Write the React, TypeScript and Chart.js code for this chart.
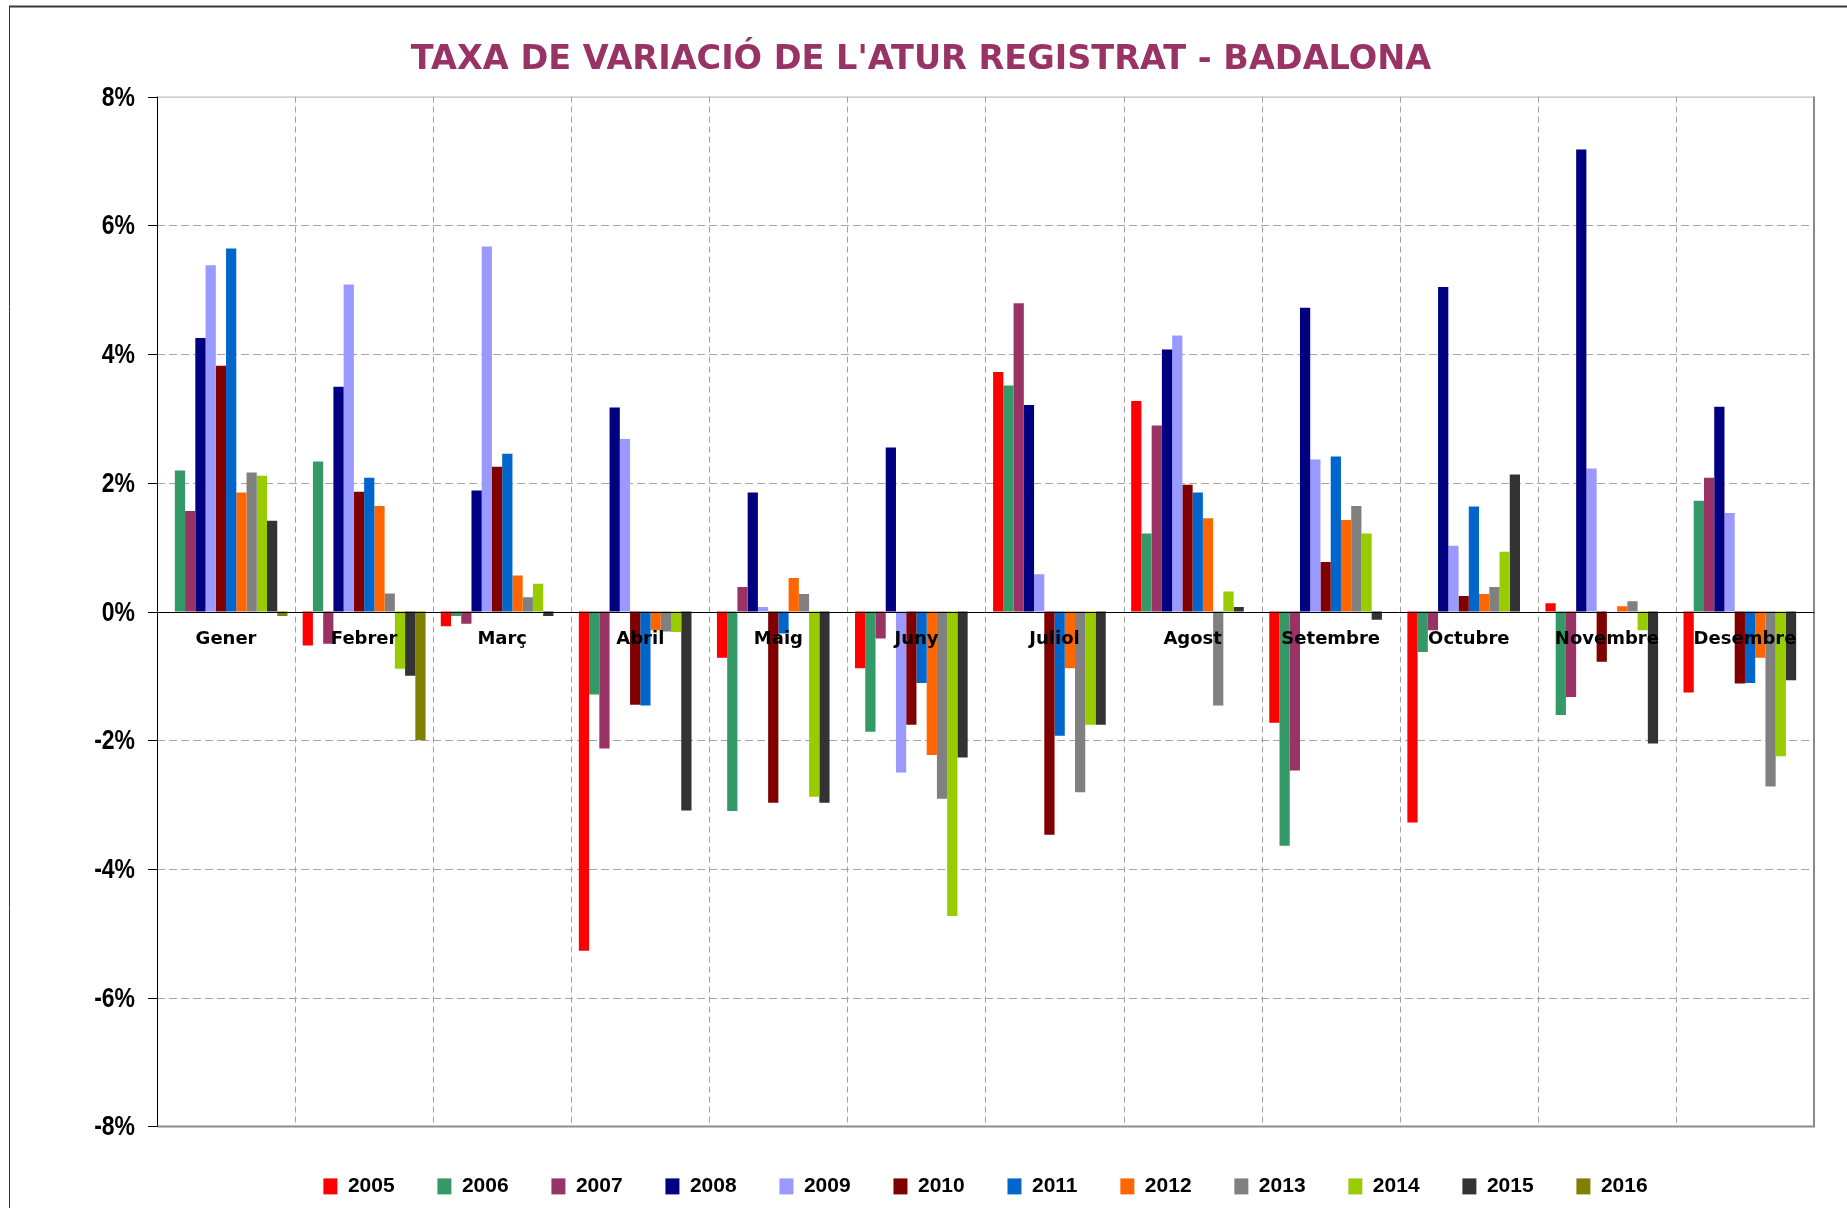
import React, { useEffect, useRef } from 'react';
import { Chart, registerables } from 'chart.js';

Chart.register(...registerables);

const months = ['Gener', 'Febrer', 'Març', 'Abril', 'Maig', 'Juny', 'Juliol', 'Agost', 'Setembre', 'Octubre', 'Novembre', 'Desembre'];
const years = ['2005', '2006', '2007', '2008', '2009', '2010', '2011', '2012', '2013', '2014', '2015', '2016'];
const colors = ['#FF0000', '#339966', '#993366', '#000080', '#9999FF', '#800000', '#0066CC', '#FF6600', '#808080', '#99CC00', '#333333', '#808000'];

const y2005 = [null, -0.53, -0.23, -5.27, -0.72, -0.88, 3.72, 3.27, -1.73, -3.28, 0.13, -1.26];
const y2006 = [2.19, 2.33, -0.07, -1.29, -3.10, -1.87, 3.51, 1.21, -3.64, -0.63, -1.61, 1.72];
const y2007 = [1.56, -0.50, -0.19, -2.13, 0.38, -0.42, 4.79, 2.89, -2.47, -0.29, -1.33, 2.08];
const y2008 = [4.25, 3.49, 1.88, 3.17, 1.85, 2.55, 3.21, 4.07, 4.72, 5.04, 7.18, 3.18];
const y2009 = [5.38, 5.08, 5.67, 2.68, 0.07, -2.50, 0.58, 4.29, 2.36, 1.02, 2.22, 1.53];
const y2010 = [3.82, 1.86, 2.25, -1.45, -2.97, -1.76, -3.47, 1.97, 0.77, 0.24, -0.78, -1.12];
const y2011 = [5.64, 2.08, 2.45, -1.46, -0.34, -1.11, -1.93, 1.85, 2.41, 1.63, 0, -1.11];
const y2012 = [1.85, 1.64, 0.56, -0.29, 0.52, -2.23, -0.88, 1.45, 1.42, 0.27, 0.08, -0.72];
const y2013 = [2.16, 0.28, 0.22, -0.31, 0.27, -2.91, -2.81, -1.46, 1.64, 0.38, 0.16, -2.72];
const y2014 = [2.11, -0.89, 0.43, -0.32, -2.88, -4.73, -1.76, 0.31, 1.21, 0.93, -0.29, -2.25];
const y2015 = [1.41, -1.00, -0.07, -3.09, -2.97, -2.27, -1.76, 0.07, -0.13, 2.13, -2.05, -1.07];
const y2016 = [-0.07, -2.00, null, null, null, null, null, null, null, null, null, null];

const series = [y2005, y2006, y2007, y2008, y2009, y2010, y2011, y2012, y2013, y2014, y2015, y2016];

const yMin = -8;
const yMax = 8;
const yStep = 2;

const TITLE = "TAXA DE VARIACIÓ DE L'ATUR REGISTRAT - BADALONA";
const ARIAL = '"Liberation Sans", Arial, sans-serif';
const VERDANA = '"DejaVu Sans", Verdana, sans-serif';

const framePlugin = {
  id: 'frameGrid',
  beforeDraw(chart: any) {
    const { ctx, width, height } = chart;
    ctx.save();
    ctx.fillStyle = '#ffffff';
    ctx.fillRect(0, 0, width, height);
    ctx.strokeStyle = '#3a3a3a';
    ctx.lineWidth = 2;
    ctx.beginPath();
    ctx.moveTo(9, 6.5);
    ctx.lineTo(width, 6.5);
    ctx.stroke();
    ctx.lineWidth = 1;
    ctx.strokeStyle = '#333333';
    ctx.beginPath();
    ctx.moveTo(9.5, 6);
    ctx.lineTo(9.5, height);
    ctx.stroke();
    ctx.restore();
  },
  beforeDatasetsDraw(chart: any) {
    const { ctx, chartArea } = chart;
    const x = chart.scales.x;
    const y = chart.scales.y;
    const { left, right, top, bottom } = chartArea;
    ctx.save();
    ctx.strokeStyle = '#a6a6a6';
    ctx.lineWidth = 1;
    ctx.setLineDash([8, 4]);
    y.ticks.forEach((t: any) => {
      if (t.value === 0 || t.value === yMin || t.value === yMax) return;
      const py = Math.round(y.getPixelForValue(t.value)) + 0.5;
      ctx.beginPath();
      ctx.moveTo(left, py);
      ctx.lineTo(right, py);
      ctx.stroke();
    });
    ctx.setLineDash([6, 4]);
    ctx.strokeStyle = '#a0a0a0';
    const n = months.length;
    for (let i = 0; i < n - 1; i++) {
      const px = Math.round((x.getPixelForValue(i) + x.getPixelForValue(i + 1)) / 2) + 0.5;
      ctx.beginPath();
      ctx.moveTo(px, top);
      ctx.lineTo(px, bottom);
      ctx.stroke();
    }
    ctx.setLineDash([]);
    ctx.strokeStyle = '#b0b0b0';
    ctx.lineWidth = 1;
    ctx.beginPath();
    ctx.moveTo(left, top + 0.5);
    ctx.lineTo(right, top + 0.5);
    ctx.stroke();
    ctx.strokeStyle = '#8a8a8a';
    ctx.lineWidth = 2;
    ctx.beginPath();
    ctx.moveTo(right, top);
    ctx.lineTo(right, bottom);
    ctx.moveTo(left, bottom);
    ctx.lineTo(right + 1, bottom);
    ctx.stroke();
    ctx.restore();
  },
  afterDatasetsDraw(chart: any) {
    const { ctx, chartArea } = chart;
    const x = chart.scales.x;
    const y = chart.scales.y;
    const { left, right, top, bottom } = chartArea;
    ctx.save();
    ctx.strokeStyle = '#000000';
    ctx.lineWidth = 1;
    const zy = Math.round(y.getPixelForValue(0)) + 0.5;
    ctx.beginPath();
    ctx.moveTo(left, zy);
    ctx.lineTo(right, zy);
    ctx.stroke();
    const ax = Math.round(left) + 0.5;
    ctx.beginPath();
    ctx.moveTo(ax, top);
    ctx.lineTo(ax, bottom);
    ctx.stroke();
    // y tick marks and (condensed) tick labels
    ctx.fillStyle = '#000000';
    ctx.font = `bold 28px ${ARIAL}`;
    ctx.textAlign = 'right';
    ctx.textBaseline = 'middle';
    y.ticks.forEach((t: any) => {
      const py = Math.round(y.getPixelForValue(t.value)) + 0.5;
      ctx.beginPath();
      ctx.moveTo(left - 9, py);
      ctx.lineTo(left, py);
      ctx.stroke();
      ctx.save();
      ctx.translate(left - 22, py + 1);
      ctx.scale(0.82, 1);
      ctx.fillText(`${t.value}%`, 0, 0);
      ctx.restore();
    });
    // category labels just below zero line
    ctx.font = `bold 18px ${VERDANA}`;
    ctx.textAlign = 'center';
    ctx.textBaseline = 'middle';
    months.forEach((m, i) => {
      ctx.fillText(m, x.getPixelForValue(i), y.getPixelForValue(0) + 28);
    });
    ctx.restore();
  },
};

export default function App() {
  const ref = useRef<HTMLCanvasElement | null>(null);

  useEffect(() => {
    if (!ref.current) return;
    const chart = new Chart(ref.current, {
      type: 'bar',
      data: {
        labels: months,
        datasets: series.map((d, i) => ({
          label: years[i],
          data: d,
          backgroundColor: colors[i],
          borderWidth: 0,
          categoryPercentage: 0.89,
          barPercentage: 1,
        })),
      },
      options: {
        responsive: false,
        animation: false,
        layout: { padding: { left: 28, right: 33, top: 0, bottom: 1.1 } },
        plugins: {
          title: {
            display: true,
            text: TITLE,
            color: '#993366',
            font: { family: VERDANA, size: 33.5, weight: 'bold' },
            padding: { top: 40, bottom: 16.4 },
          },
          legend: {
            position: 'bottom',
            fullSize: false,
            labels: {
              boxWidth: 14,
              boxHeight: 16,
              padding: 42.8,
              color: '#000000',
              font: { family: ARIAL, size: 21, weight: 'bold' },
            },
          },
          tooltip: { enabled: false },
        },
        scales: {
          x: {
            grid: {
              display: true,
              color: 'rgba(0,0,0,0)',
              drawOnChartArea: false,
              drawTicks: true,
              tickLength: 6.7,
              tickColor: 'rgba(0,0,0,0)',
            },
            border: { display: false },
            ticks: { display: false },
          },
          y: {
            min: yMin,
            max: yMax,
            grid: { display: false },
            border: { display: false },
            ticks: {
              display: false,
              stepSize: yStep,
            },
            afterFit: (s: any) => {
              s.width = 129;
            },
          },
        },
      },
      plugins: [framePlugin],
    } as any);
    return () => chart.destroy();
  }, []);

  return (
    <div style={{ position: 'fixed', left: 0, top: 0, width: 1847, height: 1208, background: '#fff' }}>
      <canvas ref={ref} width={1847} height={1208} style={{ display: 'block', width: 1847, height: 1208 }} />
    </div>
  );
}
